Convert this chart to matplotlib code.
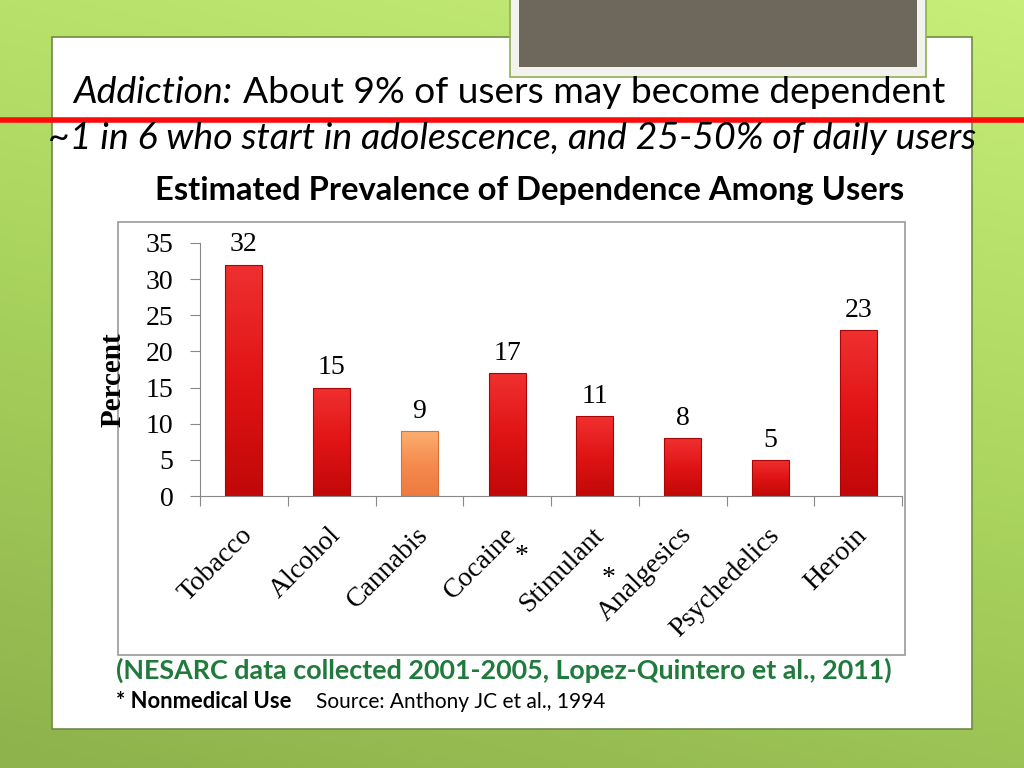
import numpy as np
import matplotlib.pyplot as plt
from matplotlib.patches import Rectangle
from matplotlib.colors import LinearSegmentedColormap

# --- data ---
categories = ['Tobacco', 'Alcohol', 'Cannabis', 'Cocaine', 'Stimulant',
              'Analgesics', 'Psychedelics', 'Heroin']
percent = [32, 15, 9, 17, 11, 8, 5, 23]
nonmedical = ['Stimulant', 'Analgesics']   # marked with *
highlight = 'Cannabis'
yticks = [0, 5, 10, 15, 20, 25, 30, 35]

W, H = 1024, 768
fig = plt.figure(figsize=(W / 100, H / 100), dpi=100)
renderer = fig.canvas.get_renderer()

# --- slide background (green gradient) ---
bg = fig.add_axes([0, 0, 1, 1])
bg.set_xlim(0, W)
bg.set_ylim(H, 0)
bg.axis('off')
yy, xx = np.mgrid[0:1:200j, 0:1:200j]
grad = 0.75 * yy + 0.25 * (1 - xx)
cmap = LinearSegmentedColormap.from_list('g', ['#c6ee78', '#a9d45e', '#8eb24c'])
bg.imshow(grad, cmap=cmap, extent=[0, W, H, 0], aspect='auto', zorder=0)

# white content panel
bg.add_patch(Rectangle((52, 37), 920, 692, facecolor='white',
                       edgecolor='#6f8a45', lw=1.2, zorder=1))
# grey picture placeholder at top
bg.add_patch(Rectangle((510, -5), 416, 82, facecolor='#f2f2ee',
                       edgecolor='#8fb050', lw=1.2, zorder=2))
bg.add_patch(Rectangle((519, -5), 398, 72, facecolor='#6e675c',
                       edgecolor='none', zorder=3))
# red rule
bg.plot([0, W], [120, 120], color='#ff0a0a', lw=4, zorder=4,
        solid_capstyle='butt')


def fit_text(x_left, x_right, y, s, **kw):
    # place text and scale its size so it spans x_left..x_right
    t = bg.text(x_left, y, s, ha='left', va='baseline', zorder=5,
                family='Lato', fontsize=20, **kw)
    w = t.get_window_extent(renderer).width
    t.set_fontsize(20 * (x_right - x_left) / w)
    return t


# titles
fit_text(73, 232, 103, 'Addiction:', style='italic')
fit_text(243, 948, 103, 'About 9% of users may become dependent')
fit_text(48, 975, 149,
         '~1 in 6 who start in adolescence, and 25-50% of daily users',
         style='italic')
fit_text(155, 905, 200, 'Estimated Prevalence of Dependence Among Users',
         weight='bold')

# chart frame
bg.add_patch(Rectangle((118, 222), 787, 433, facecolor='white',
                       edgecolor='#9a9a9a', lw=1.2, zorder=2))

# footer
fit_text(116, 896, 679,
         '(NESARC data collected 2001-2005, Lopez-Quintero et al., 2011)',
         weight='bold', color='#1f7a3c')
fit_text(116, 291, 708, '* Nonmedical Use', weight='bold')
fit_text(316, 605, 708, 'Source: Anthony JC et al., 1994')

# --- bar chart ---
x0, x1, ybot, ytop = 200, 902, 496, 243
ax = fig.add_axes([x0 / W, 1 - ybot / H, (x1 - x0) / W, (ybot - ytop) / H])
ax.set_facecolor('none')
ax.set_zorder(6)

xpos = np.arange(len(categories))
ax.set_xlim(-0.5, len(categories) - 0.5)
ax.set_ylim(0, 35)

bars = ax.bar(xpos, percent, width=0.42, color='none', lw=0)
shade = np.linspace(0, 1, 64).reshape(-1, 1)
red_cm = LinearSegmentedColormap.from_list('r', ['#c20808', '#e01414', '#f03030'])
org_cm = LinearSegmentedColormap.from_list('o', ['#ee7a3e', '#f68c50', '#fbb070'])
for b, c in zip(bars, categories):
    cm = org_cm if c == highlight else red_cm
    bx, bw, bh = b.get_x(), b.get_width(), b.get_height()
    im = ax.imshow(shade, cmap=cm, extent=[bx, bx + bw, 0, bh],
                   origin='lower', aspect='auto', zorder=2)
    im.set_clip_path(b)
    ax.add_patch(Rectangle((bx, 0), bw, bh, facecolor='none',
                           edgecolor='#d8703a' if c == highlight else '#a80606',
                           lw=0.8, zorder=3))
ax.set_xlim(-0.5, len(categories) - 0.5)
ax.set_ylim(0, 35)

serif = 'Liberation Serif'
fs = 20
for xi, v in zip(xpos, percent):
    ax.text(xi, v + 1.0, str(v), ha='center', va='bottom', fontsize=fs,
            family=serif)

ax.set_yticks(yticks)
ax.set_yticklabels([str(t) for t in yticks], family=serif, fontsize=fs)
ax.set_xticks(np.arange(len(categories) + 1) - 0.5)
ax.set_xticklabels([])
ax.tick_params(axis='y', length=7, color='#888888', pad=12)
ax.tick_params(axis='x', length=7, color='#888888')
for s in ['top', 'right']:
    ax.spines[s].set_visible(False)
for s in ['left', 'bottom']:
    ax.spines[s].set_color('#888888')

ax.set_ylabel('Percent', family=serif, weight='bold', fontsize=21)
ax.yaxis.set_label_coords(-0.105, 0.46)

for xi, c in zip(xpos, categories):
    ax.text(xi + 0.06, -4.9, c, rotation=45, rotation_mode='anchor',
            ha='right', va='center', fontsize=fs, family=serif)
    if c in nonmedical:
        ax.text(xi - 0.84, -8.4 if c == 'Stimulant' else -11.4, '*',
                ha='center', va='center', fontsize=fs, family=serif)

fig.savefig('out.png', dpi=100)
